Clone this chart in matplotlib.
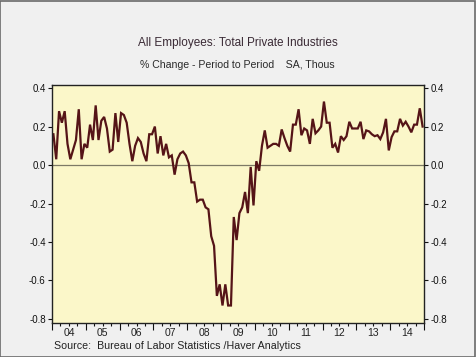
import matplotlib
matplotlib.use("Agg")
import matplotlib.pyplot as plt
from matplotlib.ticker import FixedLocator, NullFormatter, FixedFormatter
from matplotlib.patches import Rectangle
import numpy as np

plt.rcParams['font.family'] = ['Liberation Sans', 'DejaVu Sans']

title = "All Employees: Total Private Industries"
subtitle = "% Change - Period to Period    SA, Thous"
source = "Source:  Bureau of Labor Statistics /Haver Analytics"

start_year = 2004
values_2004 = [0.16, 0.03, 0.28, 0.22, 0.28, 0.11, 0.03, 0.08, 0.13, 0.29, 0.03, 0.11]
values_2005 = [0.09, 0.21, 0.13, 0.31, 0.13, 0.23, 0.25, 0.19, 0.07, 0.08, 0.27, 0.12]
values_2006 = [0.27, 0.26, 0.22, 0.11, 0.02, 0.10, 0.14, 0.12, 0.06, 0.02, 0.16, 0.16]
values_2007 = [0.20, 0.06, 0.15, 0.05, 0.11, 0.04, 0.05, -0.05, 0.03, 0.06, 0.07, 0.05]
values_2008 = [0.01, -0.09, -0.09, -0.19, -0.18, -0.18, -0.22, -0.23, -0.37, -0.42, -0.68, -0.62]
values_2009 = [-0.73, -0.62, -0.73, -0.73, -0.27, -0.39, -0.25, -0.22, -0.14, -0.25, -0.01, -0.21]
values_2010 = [0.02, -0.03, 0.10, 0.18, 0.09, 0.10, 0.11, 0.11, 0.10, 0.185, 0.14, 0.10]
values_2011 = [0.07, 0.21, 0.21, 0.29, 0.155, 0.19, 0.18, 0.11, 0.24, 0.165, 0.18, 0.20]
values_2012 = [0.33, 0.22, 0.22, 0.09, 0.11, 0.065, 0.15, 0.13, 0.15, 0.225, 0.19, 0.19]
values_2013 = [0.19, 0.225, 0.135, 0.18, 0.175, 0.16, 0.15, 0.155, 0.135, 0.17, 0.24, 0.076]
values_2014 = [0.145, 0.175, 0.175, 0.24, 0.205, 0.225, 0.2, 0.17, 0.21, 0.21, 0.295, 0.2]

series = (values_2004 + values_2005 + values_2006 + values_2007 + values_2008 +
          values_2009 + values_2010 + values_2011 + values_2012 + values_2013 + values_2014)

year_labels = ["04", "05", "06", "07", "08", "09", "10", "11", "12", "13", "14"]
ytick_vals = [0.4, 0.2, 0.0, -0.2, -0.4, -0.6, -0.8]
ytick_labels = ["0.4", "0.2", "0.0", "-0.2", "-0.4", "-0.6", "-0.8"]

x = start_year + (np.arange(len(series)) + 0.5) / 12.0

fig = plt.figure(figsize=(4.76, 3.57), dpi=100)
fig.patch.set_facecolor("#f0f0f0")
fig.patches.append(Rectangle((0.001, 0.001), 0.997, 0.997, transform=fig.transFigure,
                             fill=False, edgecolor="#6a6a6a", linewidth=1.2))

ax = fig.add_axes([52/476, 1 - 323/357, (424-52)/476, (323-85)/357])
ax.set_facecolor("#fbf7c9")
ax.plot(x, series, color="#551417", linewidth=1.6, solid_joinstyle="miter")
ax.axhline(0.0, color="#7d7a66", linewidth=0.9, zorder=1)

ax.set_xlim(2004.0, 2015.0)
ax.set_ylim(-0.821, 0.416)

for s in ax.spines.values():
    s.set_color("#222222")
    s.set_linewidth(1.0)

ax.yaxis.set_major_locator(FixedLocator(ytick_vals))
ax.yaxis.set_major_formatter(FixedFormatter(ytick_labels))
ax.tick_params(axis="y", which="both", direction="out", length=3, width=0.8,
               labelsize=7, left=True, right=True, labelleft=True, labelright=True,
               pad=1.5, colors="#111111")

years = np.arange(2004, 2016)
ax.xaxis.set_major_locator(FixedLocator(years))
ax.xaxis.set_major_formatter(NullFormatter())
quarters = [y + q / 4 for y in range(2004, 2015) for q in (1, 2, 3)]
ax.xaxis.set_minor_locator(FixedLocator(quarters))
ax.xaxis.set_minor_formatter(NullFormatter())
ax.tick_params(axis="x", which="major", direction="out", length=5, width=0.8, colors="#111111")
ax.tick_params(axis="x", which="minor", direction="out", length=2.5, width=0.8, colors="#111111")

for i, lab in enumerate(year_labels):
    ax.text(2004.5 + i, -0.875, lab, ha="center", va="center", fontsize=7.5,
            color="#222222", transform=ax.transData, clip_on=False)

fig.text(237.5/476, 1 - 43/357, title, ha="center", va="center", fontsize=8.5, color="#3a2a35")
fig.text(237.5/476, 1 - 65/357, subtitle, ha="center", va="center", fontsize=7.6, color="#2a2a2a")
fig.text(54/476, 1 - 346/357, source, ha="left", va="center", fontsize=7.7, color="#222222")

fig.savefig("out.png", dpi=100, facecolor=fig.get_facecolor())
